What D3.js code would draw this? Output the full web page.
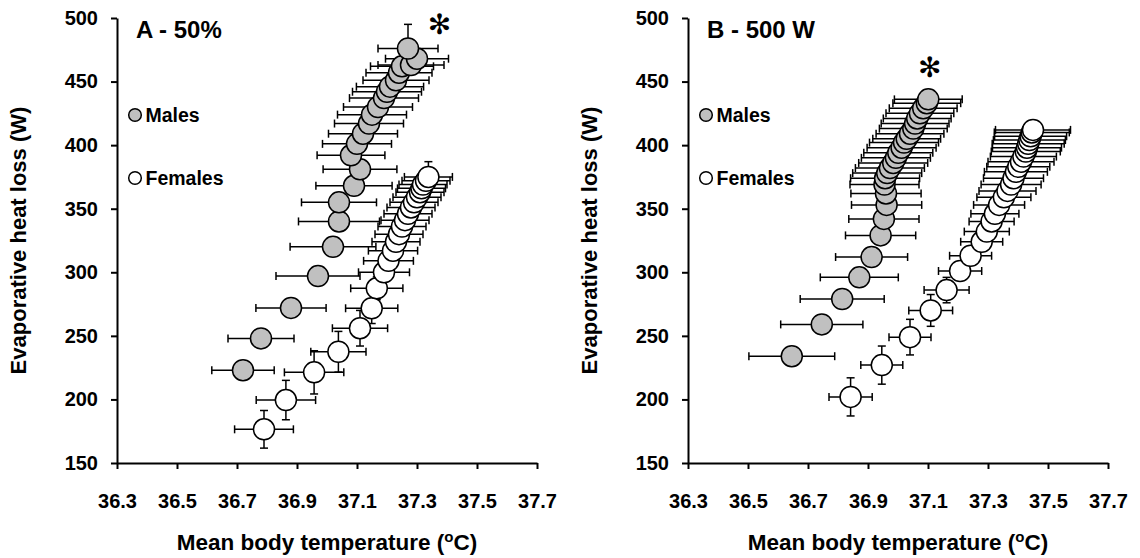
<!DOCTYPE html>
<html>
<head>
<meta charset="utf-8">
<script src="https://cdn.jsdelivr.net/npm/d3@7"></script>
<style>
body { margin: 0; background: #fff; }
text { font-family: "Liberation Sans", Arial, sans-serif; font-weight: bold; fill: #000; }
.tick text { font-size: 20px; }
.axis path, .axis line { stroke: #000; stroke-width: 2; }
</style>
</head>
<body>
<svg id="chart" width="1140" height="558"></svg>
<script>
// axis ticks
var tempTicks = [36.3, 36.5, 36.7, 36.9, 37.1, 37.3, 37.5, 37.7];
var heatTicks = [150, 200, 250, 300, 350, 400, 450, 500];

// A - 50% : males
var aMaleT    = [36.72, 36.78, 36.88, 36.97, 37.02, 37.04, 37.04, 37.09, 37.11, 37.08, 37.10, 37.12, 37.14, 37.15, 37.17, 37.19, 37.20, 37.21, 37.23, 37.24, 37.25, 37.28, 37.30, 37.27];
var aMaleW    = [223, 248, 272, 297, 320, 340, 355, 368, 381, 392, 401, 409, 417, 424, 430, 437, 442, 446, 451, 457, 462, 463, 468, 476];
var aMaleTErr = [0.104, 0.110, 0.117, 0.140, 0.143, 0.135, 0.125, 0.127, 0.123, 0.113, 0.115, 0.115, 0.115, 0.115, 0.115, 0.115, 0.115, 0.112, 0.110, 0.110, 0.105, 0.110, 0.105, 0.100];
var aMaleWErr = [3, 3, 2, 2, 2, 2, 2, 2, 3, 2, 2, 2, 2, 3, 3, 3, 3, 3, 3, 3, 4, 4, 8, 19];

// A - 50% : females
var aFemT    = [36.79, 36.863, 36.957, 37.038, 37.11, 37.149, 37.166, 37.19, 37.205, 37.22, 37.23, 37.24, 37.25, 37.26, 37.27, 37.28, 37.29, 37.30, 37.31, 37.315, 37.32, 37.33, 37.338];
var aFemW    = [176.5, 199.5, 221.3, 237.5, 256, 271.7, 287.4, 300, 309, 317, 324, 330, 336, 341, 346, 351, 355, 359, 363, 366, 369, 372, 375];
var aFemTErr = [0.098, 0.099, 0.099, 0.092, 0.092, 0.087, 0.087, 0.085, 0.083, 0.082, 0.08, 0.08, 0.08, 0.08, 0.08, 0.08, 0.08, 0.08, 0.08, 0.08, 0.08, 0.08, 0.08];
var aFemWErr = [14.8, 15.5, 17, 16, 14, 12, 9, 7, 6, 5, 5, 4, 4, 4, 4, 4, 4, 4, 5, 5, 6, 8, 12];

// B - 500 W : males
var bMaleT    = [36.646, 36.746, 36.814, 36.871, 36.912, 36.942, 36.953, 36.962, 36.960, 36.955, 36.957, 36.964, 36.973, 36.984, 36.993, 37.001, 37.012, 37.020, 37.029, 37.040, 37.051, 37.057, 37.064, 37.073, 37.084, 37.096, 37.101];
var bMaleW    = [234, 259, 279, 296, 312, 329, 342, 353, 362, 369, 374, 378, 382, 386, 390, 394, 398, 402, 405, 409, 413, 417, 421, 425, 429, 433, 436];
var bMaleTErr = [0.143, 0.137, 0.140, 0.130, 0.120, 0.117, 0.117, 0.117, 0.117, 0.115, 0.115, 0.115, 0.115, 0.115, 0.115, 0.115, 0.115, 0.115, 0.113, 0.113, 0.113, 0.113, 0.113, 0.113, 0.113, 0.113, 0.113];
var bMaleWErr = [2, 2, 2, 2, 2, 2, 2, 2, 2, 2, 2, 2, 2, 2, 2, 2, 2, 2, 2, 2, 2, 2, 2, 2, 2, 2, 2];

// B - 500 W : females
var bFemT    = [36.842, 36.946, 37.04, 37.109, 37.162, 37.207, 37.242, 37.279, 37.296, 37.312, 37.323, 37.337, 37.353, 37.365, 37.377, 37.385, 37.393, 37.401, 37.41, 37.418, 37.426, 37.43, 37.434, 37.438, 37.442, 37.446, 37.45];
var bFemW    = [202, 227, 249, 270, 286, 301, 313, 324, 332, 340, 346, 353, 359, 364, 369, 374, 379, 383, 387, 391, 395, 398, 401, 404, 407, 410, 412];
var bFemTErr = [0.072, 0.07, 0.07, 0.073, 0.075, 0.072, 0.07, 0.07, 0.075, 0.075, 0.08, 0.085, 0.09, 0.095, 0.1, 0.1, 0.105, 0.105, 0.11, 0.11, 0.115, 0.115, 0.12, 0.12, 0.12, 0.125, 0.125];
var bFemWErr = [15, 15, 14, 12.5, 10, 6, 5, 4, 3, 3, 3, 3, 3, 3, 3, 3, 3, 3, 3, 3, 3, 3, 3, 3, 3, 3, 3];

var svg = d3.select("#chart");
var plotTop = 18, plotBottom = 463, plotW = 420;
var r = 10.5, cap = 4;

function zip(t, w, te, we) {
    return t.map(function(d, i) { return { t: d, w: w[i], te: te[i], we: we[i] }; });
}

function panel(left, title, star, male, fem) {
    var g = svg.append("g");

    var x = d3.scaleLinear().domain([36.3, 37.7]).range([left, left + plotW]);
    var y = d3.scaleLinear().domain([150, 500]).range([plotBottom, plotTop]);

    // axes
    var yAxis = d3.axisLeft(y).tickValues(heatTicks).tickSizeInner(6).tickSizeOuter(0).tickPadding(13);
    var xAxis = d3.axisBottom(x).tickValues(tempTicks).tickSizeInner(6).tickSizeOuter(0).tickPadding(25)
        .tickFormat(d3.format(".1f"));

    g.append("g").attr("class", "axis")
        .attr("transform", "translate(" + left + ",0)")
        .call(yAxis)
        .attr("font-size", null).attr("font-family", null);

    g.append("g").attr("class", "axis")
        .attr("transform", "translate(0," + plotBottom + ")")
        .call(xAxis)
        .attr("font-size", null).attr("font-family", null);

    // error bars (drawn first so markers sit on top)
    [male, fem].forEach(function(series) {
        var eb = g.append("g").attr("stroke", "#000").attr("stroke-width", 1.5).attr("fill", "none");
        series.forEach(function(d) {
            var cy = y(d.w), cx = x(d.t);
            var x0 = x(d.t - d.te), x1 = x(d.t + d.te);
            var y0 = y(d.w - d.we), y1 = y(d.w + d.we);
            eb.append("line").attr("x1", x0).attr("x2", x1).attr("y1", cy).attr("y2", cy);
            eb.append("line").attr("x1", x0).attr("x2", x0).attr("y1", cy - cap).attr("y2", cy + cap);
            eb.append("line").attr("x1", x1).attr("x2", x1).attr("y1", cy - cap).attr("y2", cy + cap);
            eb.append("line").attr("x1", cx).attr("x2", cx).attr("y1", y0).attr("y2", y1);
            eb.append("line").attr("x1", cx - cap).attr("x2", cx + cap).attr("y1", y0).attr("y2", y0);
            eb.append("line").attr("x1", cx - cap).attr("x2", cx + cap).attr("y1", y1).attr("y2", y1);
        });
    });

    // markers
    g.append("g").selectAll("circle").data(male).enter().append("circle")
        .attr("cx", function(d) { return x(d.t); })
        .attr("cy", function(d) { return y(d.w); })
        .attr("r", r).attr("fill", "#c0c0c0").attr("stroke", "#000").attr("stroke-width", 1.5);

    g.append("g").selectAll("circle").data(fem).enter().append("circle")
        .attr("cx", function(d) { return x(d.t); })
        .attr("cy", function(d) { return y(d.w); })
        .attr("r", r).attr("fill", "#fff").attr("stroke", "#000").attr("stroke-width", 1.5);

    // panel title
    g.append("text").attr("x", left + 19).attr("y", 38).style("font-size", "24px").text(title);

    // significance star
    g.append("text").attr("x", x(star[0])).attr("y", y(star[1]))
        .attr("text-anchor", "middle").attr("dominant-baseline", "central")
        .style("font-family", "DejaVu Sans").style("font-weight", "normal").style("font-size", "28px")
        .text("\u273B");

    // legend
    var leg = [["Males", "#c0c0c0", 115], ["Females", "#fff", 178]];
    leg.forEach(function(l) {
        g.append("circle").attr("cx", left + 18).attr("cy", l[2]).attr("r", 6.3)
            .attr("fill", l[1]).attr("stroke", "#000").attr("stroke-width", 1.5);
        g.append("text").attr("x", left + 28.5).attr("y", l[2] + 7).style("font-size", "19.5px").text(l[0]);
    });

    // axis titles
    var xt = g.append("text").attr("x", left + plotW / 2).attr("y", 550)
        .attr("text-anchor", "middle").style("font-size", "22.5px");
    xt.append("tspan").text("Mean body temperature (");
    xt.append("tspan").attr("dy", -8).style("font-size", "15px").text("o");
    xt.append("tspan").attr("dy", 8).text("C)");

    g.append("text")
        .attr("transform", "translate(" + (left - 91) + "," + ((plotTop + plotBottom) / 2) + ") rotate(-90)")
        .attr("text-anchor", "middle").style("font-size", "22px")
        .text("Evaporative heat loss (W)");
}

panel(117, "A - 50%", [37.375, 495],
    zip(aMaleT, aMaleW, aMaleTErr, aMaleWErr), zip(aFemT, aFemW, aFemTErr, aFemWErr));
panel(688, "B - 500 W", [37.106, 461],
    zip(bMaleT, bMaleW, bMaleTErr, bMaleWErr), zip(bFemT, bFemW, bFemTErr, bFemWErr));
</script>
</body>
</html>
